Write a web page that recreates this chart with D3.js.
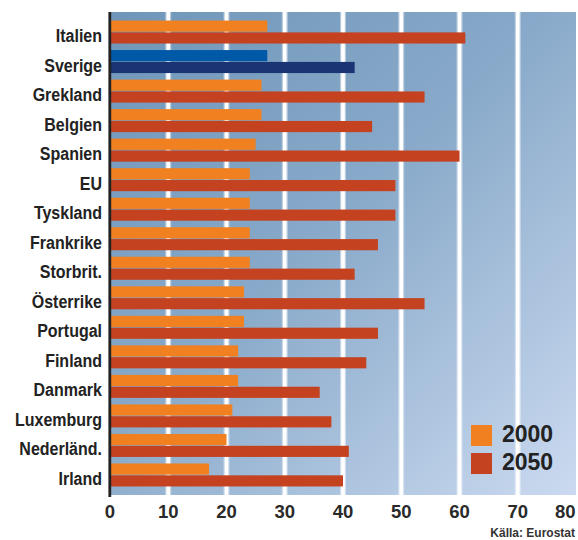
<!DOCTYPE html>
<html>
<head>
<meta charset="utf-8">
<script src="https://cdn.jsdelivr.net/npm/d3@7"></script>
<style>
  html, body { margin: 0; padding: 0; background: #fff; }
  svg { display: block; }
</style>
</head>
<body>
<svg id="chart" width="578" height="540"></svg>
<script>
const countries = ["Italien","Sverige","Grekland","Belgien","Spanien","EU","Tyskland","Frankrike","Storbrit.","Österrike","Portugal","Finland","Danmark","Luxemburg","Nederländ.","Irland"];
const values2000 = [27,27,26,26,25,24,24,24,24,23,23,22,22,21,20,17];
const values2050 = [61,42,54,45,60,49,49,46,42,54,46,44,36,38,41,40];
const years = ["2000","2050"];
const xTicks = [0,10,20,30,40,50,60,70,80];
const highlight = "Sverige";
const source = "Källa: Eurostat";

const colors = { "2000": "#f18120", "2050": "#c44220" };
const hiColors = { "2000": "#0059a6", "2050": "#1a3474" };

const svg = d3.select("#chart");
const plotTop = 12, plotBottom = 495, plotLeft = 111, plotRight = 576;

const x = d3.scaleLinear().domain([0, 80]).range([110, 576]);
const y = d3.scaleBand().domain(countries).range([plotTop, plotBottom]).paddingInner(0.221).paddingOuter(0.289);
const yy = d3.scaleBand().domain(years).range([0, y.bandwidth()]).paddingInner(0.06);

// background gradient
const defs = svg.append("defs");
const grad = defs.append("linearGradient").attr("id", "bg")
  .attr("gradientUnits", "userSpaceOnUse")
  .attr("x1", plotLeft).attr("y1", plotTop).attr("x2", plotRight).attr("y2", plotBottom);
grad.append("stop").attr("offset", 0).attr("stop-color", "#6f96b9");
grad.append("stop").attr("offset", 0.45).attr("stop-color", "#88a9c9");
grad.append("stop").attr("offset", 1).attr("stop-color", "#cbdaf0");

svg.append("rect").attr("x", plotLeft).attr("y", plotTop)
  .attr("width", plotRight - plotLeft).attr("height", plotBottom - plotTop)
  .attr("fill", "url(#bg)");

// white grid stripes
const gridVals = xTicks.filter(v => v > 0 && v < 80);
svg.append("g").selectAll("line").data(gridVals).join("line")
  .attr("x1", d => x(d)).attr("x2", d => x(d))
  .attr("y1", plotTop).attr("y2", plotBottom)
  .attr("stroke", "#ffffff").attr("stroke-opacity", 0.45).attr("stroke-width", 6);
svg.append("g").selectAll("line").data(gridVals).join("line")
  .attr("x1", d => x(d)).attr("x2", d => x(d))
  .attr("y1", plotTop).attr("y2", plotBottom)
  .attr("stroke", "#ffffff").attr("stroke-width", 3.6);

// bars
const rows = countries.map((c, i) => ({ c, vals: [{ yr: "2000", v: values2000[i] }, { yr: "2050", v: values2050[i] }] }));
const g = svg.append("g").selectAll("g").data(rows).join("g")
  .attr("transform", d => `translate(0,${y(d.c)})`);
g.selectAll("rect").data(d => d.vals.map(o => ({ ...o, c: d.c }))).join("rect")
  .attr("x", x(0))
  .attr("y", d => yy(d.yr))
  .attr("width", d => x(d.v) - x(0))
  .attr("height", yy.bandwidth())
  .attr("fill", d => d.c === highlight ? hiColors[d.yr] : colors[d.yr]);

// category labels (slightly tall, condensed look)
svg.append("g").selectAll("text").data(countries).join("text")
  .attr("transform", d => `translate(102,${y(d) + y.bandwidth() / 2 + 10}) scale(1,1.16)`)
  .attr("text-anchor", "end")
  .attr("font-family", "'Liberation Sans', Arial, sans-serif")
  .attr("font-weight", "bold")
  .attr("font-size", 16)
  .attr("fill", "#222")
  .text(d => d);

// axis line
svg.append("line").attr("x1", 109.8).attr("x2", 109.8)
  .attr("y1", plotTop).attr("y2", 497)
  .attr("stroke", "#222").attr("stroke-width", 2.8);

// x tick labels
svg.append("g").selectAll("text").data(xTicks).join("text")
  .attr("x", (d, i) => i === xTicks.length - 1 ? x(d) - 0.5 : x(d))
  .attr("y", 518)
  .attr("text-anchor", (d, i) => i === xTicks.length - 1 ? "end" : "middle")
  .attr("font-family", "'Liberation Sans', Arial, sans-serif")
  .attr("font-weight", "bold")
  .attr("font-size", 18.5)
  .attr("fill", "#2a2a2a")
  .text(d => d);

// legend
const lg = svg.append("g").selectAll("g").data(years).join("g")
  .attr("transform", (d, i) => `translate(471,${425 + i * 28})`);
lg.append("rect").attr("width", 21).attr("height", 21).attr("fill", d => colors[d]);
lg.append("text").attr("x", 31).attr("y", 17)
  .attr("font-family", "'Liberation Sans', Arial, sans-serif")
  .attr("font-weight", "bold")
  .attr("font-size", 23)
  .attr("fill", "#222")
  .text(d => d);

// source
svg.append("text").attr("x", 575).attr("y", 536.5)
  .attr("text-anchor", "end")
  .attr("font-family", "'Liberation Sans', Arial, sans-serif")
  .attr("font-weight", "bold")
  .attr("font-size", 12)
  .attr("fill", "#333")
  .text(source);
</script>
</body>
</html>
